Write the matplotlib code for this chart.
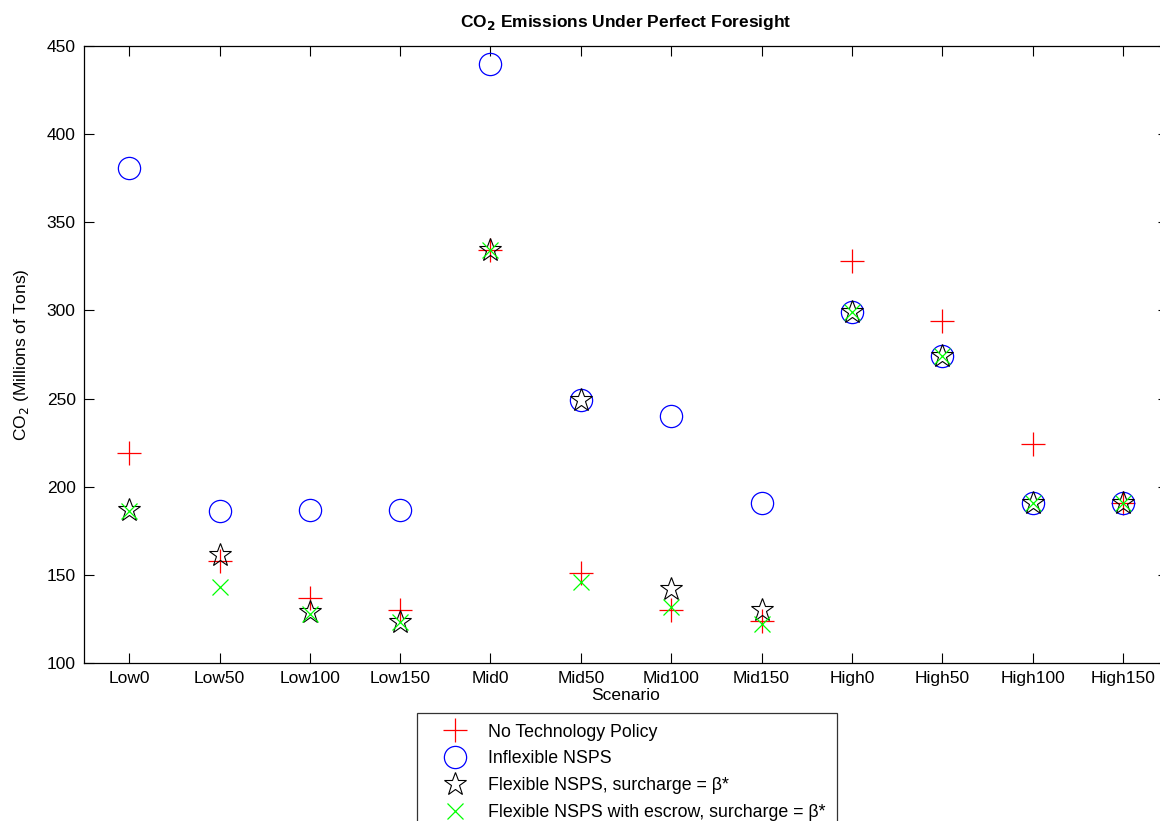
import matplotlib.pyplot as plt
import numpy as np

plt.rcParams["font.family"] = ["Liberation Sans", "DejaVu Sans"]

scenarios = ["Low0", "Low50", "Low100", "Low150", "Mid0", "Mid50",
             "Mid100", "Mid150", "High0", "High50", "High100", "High150"]
no_policy = [219, 158, 137, 130, 334, 151, 130, 124, 328, 294, 224, 191]
inflexible = [381, 186, 187, 187, 440, 249, 240, 191, 299, 274, 191, 191]
flexible = [187, 161, 129, 123, 334, 249, 142, 130, 299, 274, 191, 191]
flexible_escrow = [186, 143, 128, 123, 334, 146, 132, 122, 299, 274, 191, 191]

x = np.arange(1, len(scenarios) + 1)

fig = plt.figure(figsize=(11.6, 8.21), dpi=100)
ax = fig.add_axes([84 / 1160, 158 / 821, 1084 / 1160, 617 / 821])

ax.plot(x, no_policy, linestyle="none", marker="+", color="red",
        markersize=17, markeredgewidth=0.9, label="No Technology Policy")
ax.plot(x, inflexible, linestyle="none", marker="o", color="blue",
        markerfacecolor="none", markersize=16, markeredgewidth=0.9,
        label="Inflexible NSPS")
ax.plot(x, flexible, linestyle="none", marker="*", color="black",
        markerfacecolor="none", markersize=17, markeredgewidth=0.8,
        label="Flexible NSPS, surcharge = \u03b2*")
ax.plot(x, flexible_escrow, linestyle="none", marker="x", color="#00ff00",
        markersize=12, markeredgewidth=0.9,
        label="Flexible NSPS with escrow, surcharge = \u03b2*")

ax.set_xlim(0.5, 12.5)
ax.set_ylim(100, 450)
ax.set_xticks(x)
ax.set_xticklabels(scenarios)
ax.set_yticks(np.arange(100, 451, 50))
ax.tick_params(direction="in", length=7, width=0.8, labelsize=12.5,
               top=True, right=True, pad=6)
for s in ax.spines.values():
    s.set_linewidth(0.9)
# right border falls just outside the picture
ax.spines["right"].set_visible(False)

ax.set_title("CO$_\\mathbf{2}$ Emissions Under Perfect Foresight",
             fontsize=12.5, fontweight="bold", pad=14)
ax.set_xlabel("Scenario", fontsize=12.5, labelpad=1)
ax.set_ylabel("CO$_2$ (Millions of Tons)", fontsize=12.5, labelpad=11)

leg = fig.legend(loc="upper center", bbox_to_anchor=(627 / 1160, 1 - 713 / 821),
                 fontsize=12.8, frameon=True, fancybox=False, edgecolor="black",
                 handlelength=3.0, handletextpad=0.4, borderpad=0.6,
                 labelspacing=0.55, borderaxespad=0)
leg.get_frame().set_linewidth(0.9)

plt.savefig("out.png", dpi=100)
